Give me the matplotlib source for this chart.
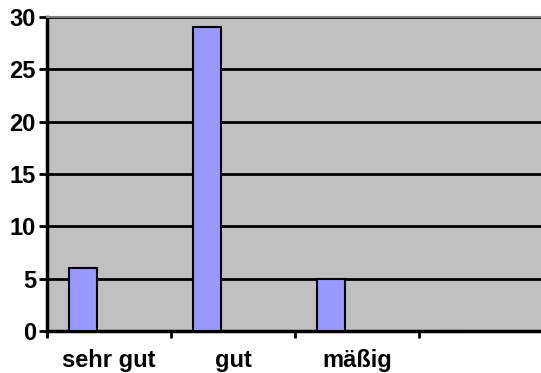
import matplotlib
matplotlib.use("Agg")
import matplotlib.pyplot as plt
import numpy as np

categories = ["sehr gut", "gut", "mäßig", ""]
counts = [6, 29, 5, 0]
y_ticks = [0, 5, 10, 15, 20, 25, 30]

plt.rcParams["font.family"] = ["Liberation Sans", "DejaVu Sans"]

fig = plt.figure(figsize=(5.41, 3.73), dpi=100)
ax = fig.add_axes([47 / 541, 42 / 373, 496 / 541, 314 / 373])
ax.set_facecolor("#c0c0c0")

x = np.arange(len(categories))
ax.bar(x - 0.21, counts, width=0.23, color="#9999ff", edgecolor="black",
       linewidth=1.5, zorder=3)

ax.set_xlim(-0.5, len(categories) - 0.5)
ax.set_ylim(0, 30)
ax.set_yticks(y_ticks)
ax.set_yticklabels([str(v) for v in y_ticks], fontsize=17, fontweight="bold")

# category labels in the middle, tick marks on the boundaries
ax.set_xticks(x)
ax.set_xticklabels(categories, fontsize=17, fontweight="bold")
ax.tick_params(axis="x", length=0, pad=13)
ax.set_xticks(np.arange(len(categories) + 1) - 0.5, minor=True)
ax.tick_params(axis="x", which="minor", length=5, width=2, direction="out")
ax.tick_params(axis="y", length=6, width=2, direction="out", pad=2)

ax.yaxis.grid(True, color="black", linewidth=2, zorder=1)
ax.set_axisbelow(True)

ax.spines["left"].set_linewidth(2.5)
ax.spines["bottom"].set_linewidth(2.5)
ax.spines["top"].set_color("#808080")
ax.spines["top"].set_linewidth(1.5)
ax.spines["right"].set_visible(False)

fig.savefig("out.png", dpi=100)
